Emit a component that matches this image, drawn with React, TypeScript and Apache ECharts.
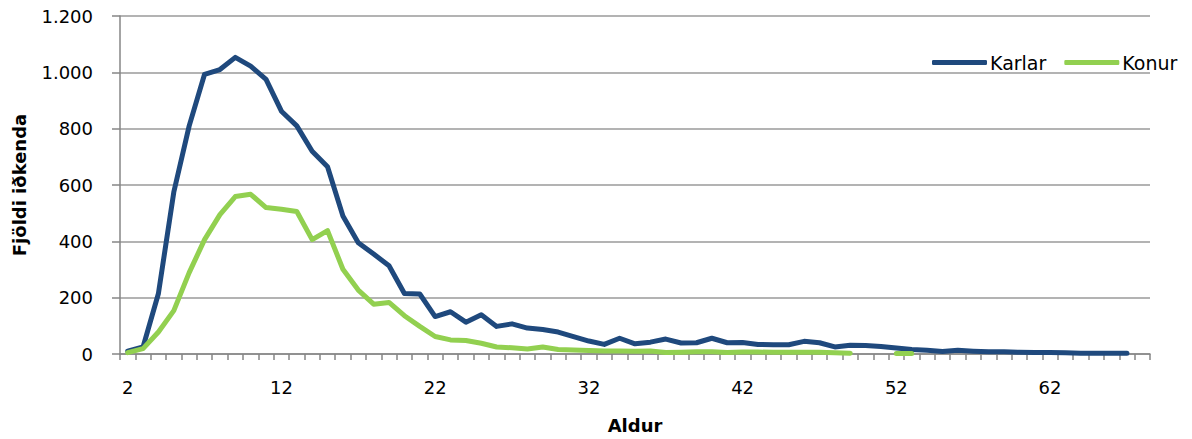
import React, { useEffect, useRef } from "react";
import * as echarts from "echarts";

const ages: string[] = [];
for (let a = 2; a <= 68; a++) ages.push(String(a));

const karlar: (number | null)[] = [
  10, 25, 215, 575, 810, 993, 1010, 1053, 1022, 975,
  862, 810, 720, 665, 490, 395, 355, 313, 215, 213,
  133, 150, 113, 139, 98, 107, 92, 87, 78, 62,
  46, 34, 56, 36, 42, 53, 39, 40, 56, 40,
  41, 34, 33, 33, 45, 40, 25, 31, 30, 27,
  21, 16, 13, 9, 13, 10, 8, 8, 6, 5,
  5, 4, 3, 3, 3, 3, null,
];

const konur: (number | null)[] = [
  5, 19, 78, 154, 289, 406, 495, 559, 567, 520,
  514, 506, 406, 438, 301, 227, 177, 183, 136, 98,
  62, 50, 48, 38, 25, 22, 18, 25, 16, 14,
  12, 11, 11, 10, 11, 5, 6, 8, 8, 5,
  7, 7, 6, 6, 6, 6, 4, 3, null, null,
  2, 2, null, null, null, null, null, null, null, null,
  null, null, null, null, null, null, null,
];

const seriesNames = ["Karlar", "Konur"];
const seriesColors = ["#1F497D", "#92D050"];
const yTicks = { min: 0, max: 1200, interval: 200 };

const FONT = "DejaVu Sans";

export default function App() {
  const ref = useRef<HTMLDivElement>(null);
  useEffect(() => {
    if (!ref.current) return;
    const chart = echarts.init(ref.current, null, { renderer: "svg" });
    const fmt = (v: number) => String(v).replace(/\B(?=(\d{3})+(?!\d))/g, ".");
    chart.setOption({
      animation: false,
      backgroundColor: "#ffffff",
      grid: { left: 120, right: 42, top: 16, bottom: 82 },
      legend: {
        left: 927,
        top: 48,
        icon: "roundRect",
        itemWidth: 55,
        itemHeight: 5,
        itemGap: 18,
        textStyle: { fontFamily: FONT, fontSize: 19, color: "#000", padding: [0, 0, 0, -2] },
        data: seriesNames,
      },
      xAxis: {
        type: "category",
        data: ages,
        boundaryGap: true,
        name: "Aldur",
        nameLocation: "middle",
        nameGap: 62,
        nameTextStyle: { fontFamily: FONT, fontSize: 18, fontWeight: "bold", color: "#000" },
        axisLine: { lineStyle: { color: "#868686", width: 1.5 } },
        axisTick: { show: true, interval: 0, length: 6, alignWithLabel: false, lineStyle: { color: "#868686", width: 1.5 } },
        axisLabel: { interval: 9, margin: 24, fontFamily: FONT, fontSize: 18, color: "#000" },
        splitLine: { show: false },
      },
      yAxis: {
        type: "value",
        min: yTicks.min,
        max: yTicks.max,
        interval: yTicks.interval,
        name: "Fjöldi iðkenda",
        nameLocation: "middle",
        nameGap: 92,
        nameTextStyle: { fontFamily: FONT, fontSize: 18, fontWeight: "bold", color: "#000" },
        axisLine: { show: true, lineStyle: { color: "#868686", width: 1.5 } },
        axisTick: { show: true, length: 8, lineStyle: { color: "#868686", width: 1.5 } },
        axisLabel: { margin: 27, fontFamily: FONT, fontSize: 18, color: "#000", formatter: fmt },
        splitLine: { show: true, lineStyle: { color: "#9a9a9a", width: 1.5 } },
      },
      series: [
        {
          name: seriesNames[0],
          type: "line",
          data: karlar,
          symbol: "none",
          color: seriesColors[0],
          lineStyle: { color: seriesColors[0], width: 5, cap: "round", join: "round" },
          connectNulls: false,
        },
        {
          name: seriesNames[1],
          type: "line",
          data: konur,
          symbol: "none",
          color: seriesColors[1],
          lineStyle: { color: seriesColors[1], width: 5, cap: "round", join: "round" },
          connectNulls: false,
        },
      ],
    });
    return () => chart.dispose();
  }, []);
  return (
    <div
      ref={ref}
      style={{ position: "fixed", left: 0, top: 0, width: 1192, height: 439 }}
    />
  );
}
